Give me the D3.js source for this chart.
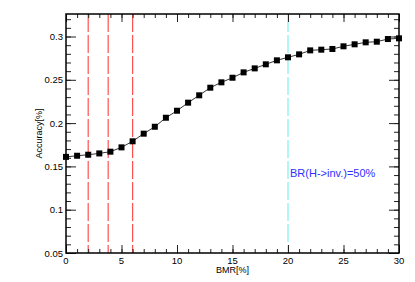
<!DOCTYPE html>
<html>
<head>
<meta charset="utf-8">
<script src="https://cdn.jsdelivr.net/npm/d3@7"></script>
<style>
  body { margin: 0; background: #fff; }
  text { font-family: "Liberation Sans", Arial, sans-serif; }
</style>
</head>
<body>
<div id="chart"></div>
<script>
// data
var bmr = d3.range(0, 31);
var accuracy = [0.161, 0.1623, 0.1635, 0.165, 0.167, 0.172, 0.179, 0.1878, 0.1958, 0.2062,
                0.2143, 0.2236, 0.2321, 0.2409, 0.2471, 0.2524, 0.2586, 0.2632, 0.2679, 0.2725,
                0.276, 0.2794, 0.284, 0.2848, 0.2856, 0.2887, 0.291, 0.2933, 0.294, 0.2971, 0.2979];
var redLines = [2, 3.8, 6];
var cyanLines = [20];
var xTicks = [0, 5, 10, 15, 20, 25, 30];
var yTicks = [0.05, 0.1, 0.15, 0.2, 0.25, 0.3];
var yTickLabels = ["0.05", "0.1", "0.15", "0.2", "0.25", "0.3"];

var width = 415, height = 282;
var margin = {top: 14, right: 16, bottom: 29, left: 66};
var plotW = width - margin.left - margin.right,
    plotH = height - margin.top - margin.bottom;

var svg = d3.select("#chart").append("svg")
    .attr("width", width)
    .attr("height", height);

var g = svg.append("g")
    .attr("transform", "translate(" + margin.left + "," + margin.top + ")");

var x = d3.scaleLinear().domain([0, 30]).range([0, plotW]);
var y = d3.scaleLinear().domain([0.05, 0.326]).range([plotH, 0]);

// vertical reference lines
g.selectAll(".redline").data(redLines).enter().append("line")
    .attr("x1", function(d) { return x(d); })
    .attr("x2", function(d) { return x(d); })
    .attr("y1", 0).attr("y2", plotH)
    .style("stroke", "#ff5050")
    .style("stroke-width", 1.2)
    .style("stroke-dasharray", "18,3");

g.selectAll(".cyanline").data(cyanLines).enter().append("line")
    .attr("x1", function(d) { return x(d); })
    .attr("x2", function(d) { return x(d); })
    .attr("y1", 0).attr("y2", plotH)
    .style("stroke", "#80f0f0")
    .style("stroke-width", 1.2)
    .style("stroke-dasharray", "18,3");

// axes: ticks inward on all four sides
var xMinor = d3.range(0, 31, 1);
var yMinor = d3.range(5, 33).map(function(d) { return d / 100; });

function drawAxis(axis, ticks, len) {
  return axis.tickValues(ticks).tickSizeInner(len).tickSizeOuter(0).tickFormat("");
}

g.append("g").attr("transform", "translate(0," + plotH + ")")
    .call(drawAxis(d3.axisTop(x), xMinor, 4));
g.append("g").attr("transform", "translate(0," + plotH + ")")
    .call(drawAxis(d3.axisTop(x), xTicks, 8));
g.append("g")
    .call(drawAxis(d3.axisBottom(x), xMinor, 4));
g.append("g")
    .call(drawAxis(d3.axisBottom(x), xTicks, 8));
g.append("g")
    .call(drawAxis(d3.axisRight(y), yMinor, 5));
g.append("g")
    .call(drawAxis(d3.axisRight(y), yTicks, 10));
g.append("g").attr("transform", "translate(" + plotW + ",0)")
    .call(drawAxis(d3.axisLeft(y), yMinor, 5));
g.append("g").attr("transform", "translate(" + plotW + ",0)")
    .call(drawAxis(d3.axisLeft(y), yTicks, 10));

g.selectAll(".domain").remove();
g.selectAll(".tick line").style("stroke", "#222").style("stroke-width", 1);

// tick labels
g.selectAll(".xlab").data(xTicks).enter().append("text")
    .attr("x", function(d) { return x(d); })
    .attr("y", plotH + 11)
    .attr("text-anchor", "middle")
    .style("font-size", "9.5px")
    .text(function(d) { return d; });

g.selectAll(".ylab").data(yTicks).enter().append("text")
    .attr("x", -3)
    .attr("y", function(d) { return y(d) + 3.5; })
    .attr("text-anchor", "end")
    .style("font-size", "9.5px")
    .text(function(d, i) { return yTickLabels[i]; });

// frame
g.append("rect")
    .attr("width", plotW).attr("height", plotH)
    .attr("fill", "none")
    .style("stroke", "#000")
    .style("stroke-width", 1.5);

// curve and markers
var pts = bmr.map(function(d, i) { return {x: d, y: accuracy[i]}; });
var line = d3.line()
    .x(function(d) { return x(d.x); })
    .y(function(d) { return y(d.y); });

g.append("path")
    .attr("d", line(pts))
    .attr("fill", "none")
    .attr("stroke", "#000")
    .attr("stroke-width", 0.8);

g.selectAll(".pt").data(pts).enter().append("rect")
    .attr("x", function(d) { return x(d.x) - 3; })
    .attr("y", function(d) { return y(d.y) - 3; })
    .attr("width", 6).attr("height", 6)
    .attr("fill", "#000");

// annotation
g.append("text")
    .attr("x", x(20) + 2)
    .attr("y", 176.5 - margin.top)
    .style("font-size", "11px")
    .style("fill", "#3030ff")
    .text("BR(H->inv.)=50%");

// axis titles
svg.append("text")
    .attr("x", margin.left + plotW / 2)
    .attr("y", 273)
    .attr("text-anchor", "middle")
    .style("font-size", "9px")
    .text("BMR[%]");

svg.append("text")
    .attr("transform", "translate(42," + (margin.top + plotH / 2) + ") rotate(-90)")
    .attr("text-anchor", "middle")
    .style("font-size", "9px")
    .text("Accuracy[%]");
</script>
</body>
</html>
